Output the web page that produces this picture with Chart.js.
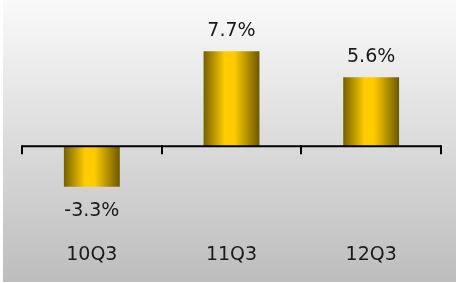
<!DOCTYPE html>
<html>
<head>
<meta charset="utf-8">
<script src="https://cdn.jsdelivr.net/npm/chart.js@4/dist/chart.umd.min.js"></script>
<style>
html,body{margin:0;padding:0;background:#fff;}
#wrap{width:456px;height:283px;position:relative;}
</style>
</head>
<body>
<div id="wrap"><canvas id="c" width="456" height="283"></canvas></div>
<script>
const categories = ["10Q3", "11Q3", "12Q3"];
const growthValues = [-3.3, 7.7, 5.6];
const valueLabels = ["-3.3%", "7.7%", "5.6%"];

const FONT = "'DejaVu Sans', Verdana, sans-serif";
const BAR_FRACTION = 0.4;

const bgPlugin = {
  id: 'bg',
  beforeDraw(chart) {
    const ctx = chart.ctx;
    const g = ctx.createLinearGradient(0, 0, 0, chart.height);
    g.addColorStop(0, '#fafafa');
    g.addColorStop(1, '#bdbdbd');
    ctx.save();
    ctx.fillStyle = '#ffffff';
    ctx.fillRect(0, 0, chart.width, chart.height);
    ctx.fillStyle = g;
    ctx.fillRect(3, 0, chart.width - 3, chart.height - 1);
    ctx.restore();
  }
};

const axisPlugin = {
  id: 'zeroAxis',
  afterDatasetsDraw(chart) {
    const ctx = chart.ctx;
    const xs = chart.scales.x, ys = chart.scales.y;
    const y0 = ys.getPixelForValue(0);
    const half = (xs.getPixelForValue(1) - xs.getPixelForValue(0)) / 2;
    ctx.save();
    ctx.strokeStyle = '#000';
    ctx.lineWidth = 2;
    ctx.beginPath();
    ctx.moveTo(xs.left, y0);
    ctx.lineTo(xs.right, y0);
    ctx.stroke();
    for (let i = 0; i <= categories.length; i++) {
      const x = Math.round(xs.getPixelForValue(0) - half + i * 2 * half);
      ctx.beginPath();
      ctx.moveTo(x, y0 - 1);
      ctx.lineTo(x, y0 + 8);
      ctx.stroke();
    }
    const meta = chart.getDatasetMeta(0);
    ctx.fillStyle = '#1a1a1a';
    ctx.font = '19px ' + FONT;
    ctx.textAlign = 'center';
    ctx.textBaseline = 'middle';
    meta.data.forEach((bar, i) => {
      const v = growthValues[i];
      const y = v >= 0 ? bar.y - 20 : bar.y + 24;
      ctx.fillText(valueLabels[i], bar.x, y);
    });
    ctx.restore();
  }
};

function barGradient(context) {
  const chart = context.chart;
  const xs = chart.scales && chart.scales.x;
  if (!xs || !chart.chartArea) return '#ffcc00';
  const cx = xs.getPixelForValue(context.dataIndex);
  const catW = xs.getPixelForValue(1) - xs.getPixelForValue(0);
  const w = catW * BAR_FRACTION;
  if (!isFinite(cx) || !isFinite(w) || w <= 0) return '#ffcc00';
  const x0 = cx - w / 2;
  const g = chart.ctx.createLinearGradient(x0, 0, x0 + w, 0);
  g.addColorStop(0, '#756100');
  g.addColorStop(0.38, '#ffcc00');
  g.addColorStop(0.55, '#ffcc00');
  g.addColorStop(1, '#6b5800');
  return g;
}

new Chart(document.getElementById('c'), {
  type: 'bar',
  data: {
    labels: categories,
    datasets: [{
      data: growthValues,
      backgroundColor: barGradient,
      borderWidth: 0,
      barPercentage: BAR_FRACTION,
      categoryPercentage: 1.0
    }]
  },
  options: {
    responsive: false,
    animation: false,
    layout: { padding: { left: 22, right: 15, top: 23, bottom: 18 } },
    plugins: { legend: { display: false }, tooltip: { enabled: false } },
    scales: {
      x: {
        grid: { display: false, drawTicks: false, tickLength: 0 },
        border: { display: false },
        ticks: { color: '#1a1a1a', font: { family: FONT, size: 19 }, padding: 24, maxRotation: 0 },
        afterFit(scale) { scale.height = 45; }
      },
      y: {
        display: false,
        min: -6,
        max: 10
      }
    }
  },
  plugins: [bgPlugin, axisPlugin]
});
</script>
</body>
</html>
